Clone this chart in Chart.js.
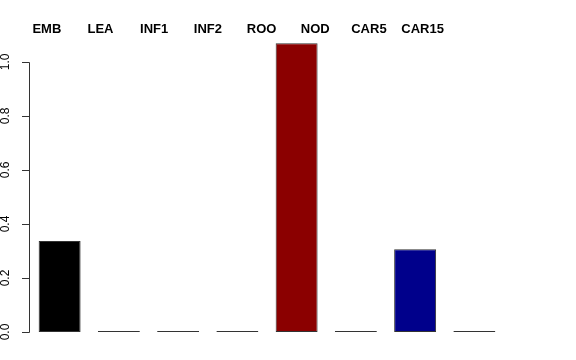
<!DOCTYPE html>
<html>
<head>
<meta charset="utf-8">
<script src="https://cdn.jsdelivr.net/npm/chart.js@4/dist/chart.umd.min.js"></script>
<style>
  body { margin: 0; background: #fff; }
  #wrap { width: 576px; height: 360px; }
</style>
</head>
<body>
<div id="wrap"><canvas id="chart"></canvas></div>
<script>
const categories = ['EMB', 'LEA', 'INF1', 'INF2', 'ROO', 'NOD', 'CAR5', 'CAR15'];
const values = [0.337, 0, 0, 0, 1.069, 0, 0.306, 0];
const barColors = ['#000000', '#555555', '#555555', '#555555', '#8b0000', '#555555', '#00008b', '#555555'];
const yTicks = [0, 0.2, 0.4, 0.6, 0.8, 1.0];
const yTickLabels = ['0.0', '0.2', '0.4', '0.6', '0.8', '1.0'];

// R-style axis and header labels drawn by hand
const rAxis = {
    id: 'rAxis',
    afterDraw(chart) {
        const ctx = chart.ctx;
        const y = chart.scales.y;
        const area = chart.chartArea;
        const axX = area.left - 1;
        ctx.save();
        ctx.strokeStyle = '#333';
        ctx.lineWidth = 1;
        ctx.beginPath();
        ctx.moveTo(axX + 0.5, Math.round(y.getPixelForValue(0)) + 0.5);
        ctx.lineTo(axX + 0.5, Math.round(y.getPixelForValue(1)) + 0.5);
        yTicks.forEach(v => {
            const py = Math.round(y.getPixelForValue(v)) + 0.5;
            ctx.moveTo(axX + 0.5, py);
            ctx.lineTo(axX - 7, py);
        });
        ctx.stroke();

        ctx.fillStyle = '#000';
        ctx.font = '12px "Liberation Sans", Arial, sans-serif';
        ctx.textAlign = 'center';
        ctx.textBaseline = 'alphabetic';
        yTicks.forEach((v, i) => {
            ctx.save();
            ctx.translate(8.5, y.getPixelForValue(v));
            ctx.rotate(-Math.PI / 2);
            ctx.fillText(yTickLabels[i], 0, 0);
            ctx.restore();
        });

        // header labels sit on a slightly tighter spacing than the bars
        const slot = (area.right - area.left) / categories.length;
        ctx.font = 'bold 13px "Liberation Sans", Arial, sans-serif';
        ctx.textBaseline = 'middle';
        categories.forEach((c, i) => {
            ctx.fillText(c, area.left + slot * (0.284 + 0.906 * i), 29.5);
        });
        ctx.restore();
    }
};

const myChart = new Chart(document.getElementById('chart').getContext('2d'), {
    type: 'bar',
    data: {
        labels: categories,
        datasets: [{
            data: values,
            backgroundColor: barColors,
            borderColor: '#333333',
            borderWidth: 1,
            borderSkipped: false,
            minBarLength: 1,
            barPercentage: 0.708,
            categoryPercentage: 1
        }]
    },
    options: {
        responsive: true,
        maintainAspectRatio: false,
        animation: false,
        layout: { padding: { left: 30, top: 43, right: 72, bottom: 28 } },
        plugins: { legend: { display: false }, tooltip: { enabled: false } },
        scales: {
            x: { display: false },
            y: { display: false, min: 0, max: 1.07 }
        }
    },
    plugins: [rAxis]
});
</script>
</body>
</html>
